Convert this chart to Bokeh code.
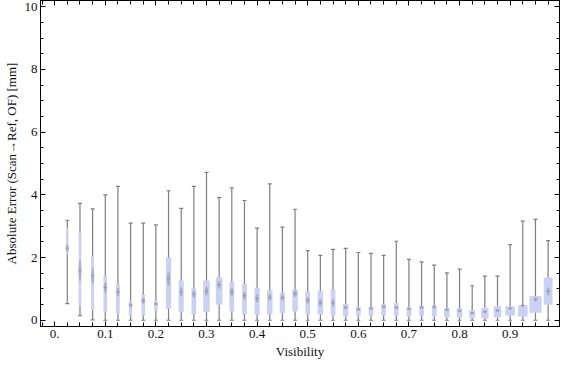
from bokeh.plotting import figure
from bokeh.models import Range1d, FixedTicker, LinearAxis, ColumnDataSource
from bokeh.embed import file_html
from bokeh.resources import INLINE

# ---- data ----
visibility = [0.025, 0.05, 0.075, 0.1, 0.125, 0.15, 0.175, 0.2, 0.225, 0.25,
              0.275, 0.3, 0.325, 0.35, 0.375, 0.4, 0.425, 0.45, 0.475, 0.5,
              0.525, 0.55, 0.575, 0.6, 0.625, 0.65, 0.675, 0.7, 0.725, 0.75,
              0.775, 0.8, 0.825, 0.85, 0.875, 0.9, 0.925, 0.95, 0.975]
whisker_max = [3.19, 3.73, 3.55, 4.00, 4.27, 3.10, 3.10, 3.04, 4.13, 3.57,
               4.27, 4.72, 3.91, 4.22, 3.82, 2.94, 4.35, 2.97, 3.54, 2.22,
               2.07, 2.26, 2.29, 2.16, 2.13, 2.07, 2.52, 1.94, 1.86, 1.76,
               1.51, 1.63, 1.10, 1.41, 1.41, 2.41, 3.16, 3.22, 2.54]
q3 = [2.95, 2.80, 2.05, 1.41, 1.16, 0.63, 0.82, 0.63, 2.00, 1.27,
      1.02, 1.27, 1.36, 1.23, 1.16, 1.04, 0.95, 0.88, 0.98, 0.92,
      0.94, 0.98, 0.52, 0.42, 0.43, 0.52, 0.55, 0.43, 0.46, 0.48,
      0.39, 0.39, 0.33, 0.39, 0.45, 0.45, 0.48, 0.77, 1.36]
median = [2.30, 1.58, 1.42, 1.04, 0.90, 0.48, 0.62, 0.52, 1.32, 0.90,
          0.83, 0.93, 1.13, 0.90, 0.78, 0.69, 0.73, 0.72, 0.85, 0.64,
          0.56, 0.55, 0.41, 0.35, 0.38, 0.43, 0.41, 0.36, 0.41, 0.42,
          0.33, 0.30, 0.23, 0.27, 0.31, 0.38, 0.47, 0.66, 0.92]
q1 = [2.10, 0.46, 0.30, 0.27, 0.21, 0.12, 0.15, 0.30, 0.37, 0.27,
      0.20, 0.27, 0.49, 0.28, 0.19, 0.18, 0.19, 0.22, 0.28, 0.19,
      0.18, 0.15, 0.12, 0.15, 0.15, 0.15, 0.15, 0.12, 0.15, 0.12,
      0.09, 0.09, 0.06, 0.06, 0.09, 0.15, 0.12, 0.24, 0.49]
whisker_min = [0.53, 0.15, 0.01, 0.0, 0.0, 0.0, 0.0, 0.0, 0.0, 0.0,
               0.0, 0.0, 0.0, 0.0, 0.0, 0.0, 0.0, 0.0, 0.0, 0.0,
               0.0, 0.0, 0.0, 0.0, 0.0, 0.0, 0.0, 0.0, 0.0, 0.0,
               0.0, 0.0, 0.0, 0.0, 0.0, 0.0, 0.0, 0.0, 0.0]
# relative box width
box_weight = [2.0, 2.5, 2.7, 3.3, 3.3, 3.0, 3.3, 3.3, 4.7, 4.7,
              4.3, 6.0, 6.0, 4.3, 4.3, 4.7, 5.0, 4.7, 5.0, 4.3,
              5.0, 4.3, 5.0, 4.3, 4.3, 4.3, 4.3, 4.3, 4.3, 4.3,
              5.0, 5.0, 5.3, 6.7, 6.7, 8.7, 8.7, 11.0, 8.0]

x_ticks = [0.0, 0.1, 0.2, 0.3, 0.4, 0.5, 0.6, 0.7, 0.8, 0.9]
x_tick_labels = ["0.", "0.1", "0.2", "0.3", "0.4", "0.5", "0.6", "0.7", "0.8", "0.9"]
y_ticks = [0, 2, 4, 6, 8, 10]
y_tick_labels = ["0", "2", "4", "6", "8", "10"]

x_label = "Visibility"
y_label = "Absolute Error (Scan\u2192Ref, OF) [mm]"

FONT = "Liberation Serif"

src = ColumnDataSource(dict(
    x=visibility, hi=whisker_max, q3=q3, med=median, q1=q1, lo=whisker_min,
    mid=[(a + b) / 2 for a, b in zip(q1, q3)],
    iqr=[b - a for a, b in zip(q1, q3)],
    medh=[max(0.3 * (b - a), 0.1) for a, b in zip(q1, q3)],
    w=[wv * 1.1 for wv in box_weight],
))

p = figure(width=560, height=361,
           x_range=Range1d(-0.028, 0.9975), y_range=Range1d(-0.2, 10.2),
           x_axis_type=None, y_axis_type=None,
           output_backend="svg", toolbar_location=None)
p.min_border_left = 0
p.min_border_right = 1
p.min_border_top = 0
p.min_border_bottom = 0
p.grid.visible = False
p.outline_line_color = "black"
p.outline_line_width = 1
p.background_fill_color = "white"
p.border_fill_color = "white"

x_minor = [round(-0.025 + 0.025 * k, 3) for k in range(42)]
y_minor = [0.5 * k for k in range(21)]


def style_axis(ax, show_labels):
    ax.axis_line_color = "black"
    ax.axis_line_width = 1
    ax.major_tick_in = 5
    ax.major_tick_out = 0
    ax.minor_tick_in = 3
    ax.minor_tick_out = 0
    ax.major_tick_line_color = "black"
    ax.minor_tick_line_color = "black"
    ax.major_label_text_font = FONT
    ax.major_label_text_color = "#111111"
    if show_labels:
        ax.major_label_text_font_size = "13px"
        ax.major_label_standoff = 3
    else:
        ax.major_label_text_font_size = "0px"
        ax.major_label_text_alpha = 0
        ax.major_label_standoff = 0
    ax.axis_label_text_font = FONT
    ax.axis_label_text_font_size = "13px"
    ax.axis_label_text_font_style = "normal"
    ax.axis_label_text_color = "#111111"


xt = FixedTicker(ticks=x_ticks, minor_ticks=x_minor)
yt = FixedTicker(ticks=y_ticks, minor_ticks=y_minor)

bottom = LinearAxis(ticker=xt, axis_label=x_label)
bottom.major_label_overrides = {t: s for t, s in zip(x_ticks, x_tick_labels)}
style_axis(bottom, True)
bottom.minor_tick_in = 4
bottom.axis_label_standoff = 3

left = LinearAxis(ticker=yt, axis_label=y_label)
left.major_label_overrides = {t: s for t, s in zip(y_ticks, y_tick_labels)}
style_axis(left, True)
left.major_label_standoff = 3
left.axis_label_standoff = 3

top = LinearAxis(ticker=FixedTicker(ticks=x_ticks, minor_ticks=x_minor))
style_axis(top, False)
top.minor_tick_in = 4
right = LinearAxis(ticker=FixedTicker(ticks=y_ticks, minor_ticks=y_minor))
style_axis(right, False)

p.add_layout(bottom, "below")
p.add_layout(left, "left")
p.add_layout(top, "above")
p.add_layout(right, "right")

GRAY = "#7f7f7f"
p.segment(x0="x", y0="lo", x1="x", y1="hi", source=src, line_color=GRAY, line_width=1.2)
p.scatter(x="x", y="hi", source=src, marker="dash", size=4, line_color=GRAY, line_width=1.2)
p.scatter(x="x", y="lo", source=src, marker="dash", size=4, line_color=GRAY, line_width=1.2)
p.rect(x="x", y="mid", width="w", height="iqr", width_units="screen", source=src,
       fill_color="#cad1f6", line_color=None)
p.ellipse(x="x", y="med", width=3, height="medh", width_units="screen", source=src,
          fill_color="#666666", fill_alpha=0.3, line_color=None)
p.scatter(x="x", y="med", source=src, marker="dash", size=4, line_color="#777777",
          line_alpha=0.45, line_width=1)

open("out.html", "w").write(file_html(p, INLINE))
